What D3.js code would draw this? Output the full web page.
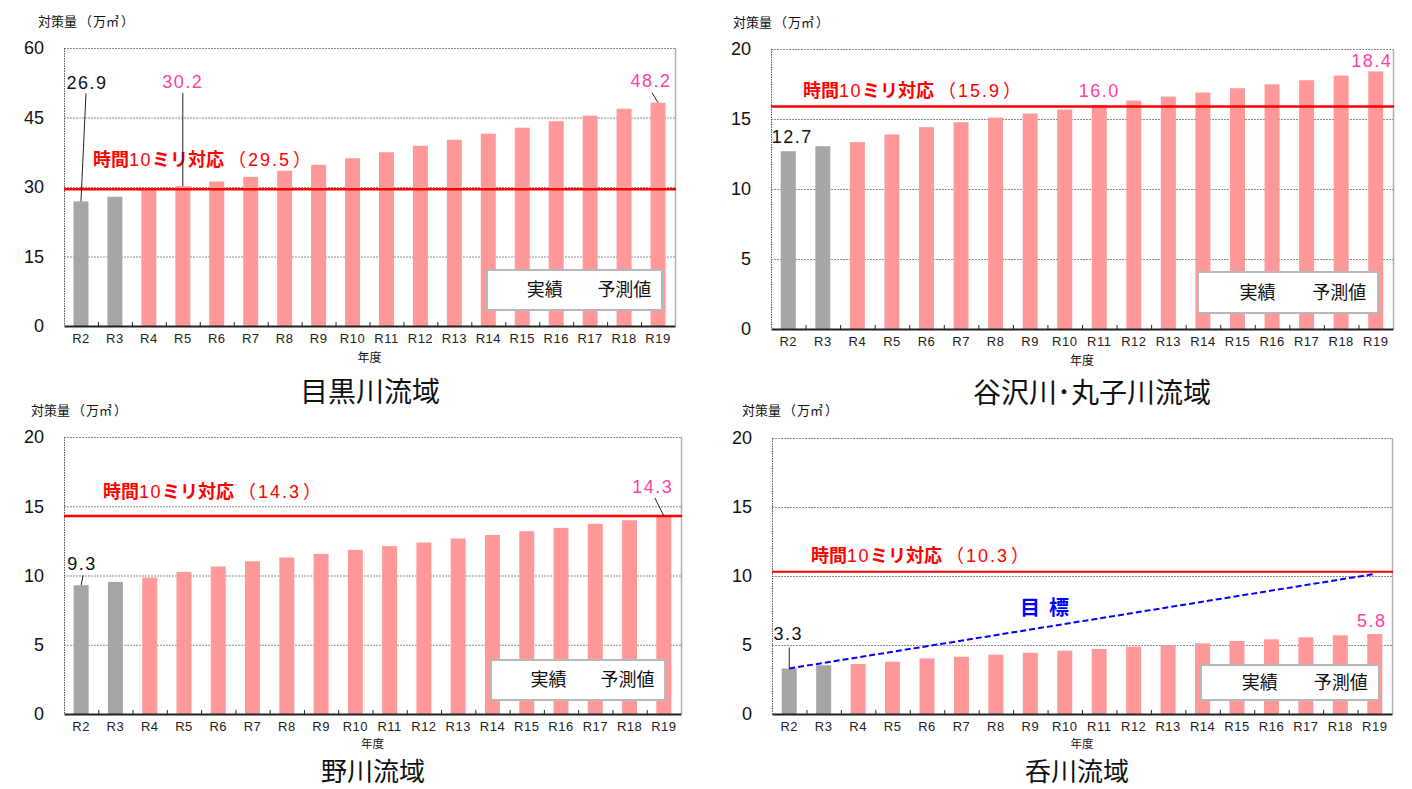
<!DOCTYPE html>
<html><head><meta charset="utf-8">
<script src="https://cdn.jsdelivr.net/npm/d3@7"></script>
<style>
body{margin:0;background:#fff;}
svg{display:block;}
text{font-family:"Liberation Sans","Noto Sans CJK JP",sans-serif;}
.jp{font-family:"Noto Sans CJK JP","Liberation Sans",sans-serif;}
</style></head>
<body>
<svg id="c" width="1412" height="789"></svg>
<script>
const categories = ["R2","R3","R4","R5","R6","R7","R8","R9","R10","R11","R12","R13","R14","R15","R16","R17","R18","R19"];
const actualCount = 2; // R2, R3 are 実績
const meguroValues = [26.9,27.9,29.4,30.2,31.2,32.2,33.5,34.8,36.2,37.5,38.9,40.2,41.5,42.8,44.2,45.4,46.9,48.2];
const yazawaValues = [12.7,13.06,13.35,13.9,14.42,14.77,15.1,15.39,15.68,16.0,16.32,16.6,16.89,17.2,17.48,17.77,18.1,18.4];
const nogawaValues = [9.3,9.54,9.86,10.26,10.65,11.03,11.3,11.56,11.85,12.12,12.38,12.67,12.93,13.2,13.44,13.73,13.99,14.3];
const nomikawaValues = [3.3,3.53,3.62,3.79,4.03,4.15,4.3,4.44,4.59,4.71,4.88,4.98,5.12,5.29,5.41,5.56,5.7,5.8];
const meguroTicks = [0,15,30,45,60];
const smallTicks = [0,5,10,15,20];
const thresholds = [29.5, 15.9, 14.3, 10.3];
const titles = ["目黒川流域","谷沢川･丸子川流域","野川流域","呑川流域"];
const targetLine = [3.3, 10.15]; // 呑川 目標 from R2 to R19

const svg = d3.select("#c");
const GRAY = "#a6a6a6", PINK = "#ff9999", PINKTXT = "#ff3f9f", RED = "#ff0000";

function panel(cfg){
  const g = svg.append("g");
  const x = d3.scaleBand().domain(categories).range([cfg.left, cfg.right]);
  const y = d3.scaleLinear().domain([0, cfg.yMax]).range([cfg.bottom, cfg.top]);
  // gridlines
  g.selectAll(".grid").data(cfg.ticks.filter(t=>t>0)).join("line")
    .attr("x1", cfg.left).attr("x2", cfg.right)
    .attr("y1", d=>y(d)+0.5).attr("y2", d=>y(d)+0.5)
    .attr("stroke", "#8c8c8c").attr("stroke-width",1).attr("stroke-dasharray","2,1");
  // right border
  g.append("line").attr("x1",cfg.right+0.5).attr("x2",cfg.right+0.5).attr("y1",cfg.top).attr("y2",cfg.bottom)
    .attr("stroke","#b0b0b0").attr("stroke-width",1.5);
  // left axis dotted
  g.append("line").attr("x1",cfg.left+0.5).attr("x2",cfg.left+0.5).attr("y1",cfg.top).attr("y2",cfg.bottom)
    .attr("stroke","#555").attr("stroke-width",1).attr("stroke-dasharray","1.5,1");
  // bars
  const bw = 15;
  g.selectAll(".bar").data(cfg.values).join("rect")
    .attr("x",(d,i)=>x(categories[i])+x.bandwidth()/2-bw/2)
    .attr("y",d=>y(d)).attr("width",bw).attr("height",d=>cfg.bottom-y(d))
    .attr("fill",(d,i)=>i<actualCount?GRAY:PINK);
  // bottom axis
  const ax = d3.axisBottom(x).tickSize(0).tickPadding(8);
  const axg = g.append("g").attr("transform",`translate(0,${cfg.bottom})`).call(ax);
  axg.select(".domain").attr("stroke","#222").attr("stroke-width",2);
  axg.selectAll("text").attr("font-size",13).attr("fill","#222").attr("letter-spacing",0.5);
  // inner ticks between categories
  g.selectAll(".tk").data(categories.slice(1)).join("line")
    .attr("x1",d=>x(d)+0.5).attr("x2",d=>x(d)+0.5).attr("y1",cfg.bottom-4).attr("y2",cfg.bottom)
    .attr("stroke","#222");
  // y axis labels
  const ay = d3.axisLeft(y).tickValues(cfg.ticks).tickSize(0).tickPadding(20);
  const ayg = g.append("g").attr("transform",`translate(${cfg.left},0)`).call(ay);
  ayg.select(".domain").remove();
  ayg.selectAll("text").attr("font-size",18).attr("fill","#111");
  // threshold line
  const th = cfg.threshold;
  g.append("line").attr("x1",cfg.left).attr("x2",cfg.right+1).attr("y1",y(th)).attr("y2",y(th))
    .attr("stroke",RED).attr("stroke-width",cfg.thW||2.5);
  const tl = g.append("text").attr("x",cfg.thLabel[0]).attr("y",cfg.thLabel[1]).attr("dy","0.35em")
    .attr("font-size",18).attr("fill",RED).attr("class","jp");
  tl.append("tspan").attr("font-weight","bold").text("時間");
  tl.append("tspan").attr("font-family","Liberation Sans").attr("letter-spacing",1.5).text("10");
  tl.append("tspan").attr("font-weight","bold").text("ミリ対応");
  tl.append("tspan").attr("dx",4).text("（");
  tl.append("tspan").attr("font-family","Liberation Sans").attr("letter-spacing",2).attr("dx",2).text(th.toFixed(1));
  tl.append("tspan").attr("dx",2).text("）");
  // target line
  if(cfg.target){
    g.append("line").attr("x1",x("R2")+x.bandwidth()/2).attr("y1",y(cfg.target[0]))
      .attr("x2",x("R19")+x.bandwidth()/2).attr("y2",y(cfg.target[1]))
      .attr("stroke","#0000ff").attr("stroke-width",2).attr("stroke-dasharray","6,3");
    g.append("text").attr("class","jp").attr("x",cfg.targetLabel[0]).attr("y",cfg.targetLabel[1])
      .attr("dy","0.35em").attr("font-size",20).attr("font-weight","bold").attr("fill","#0000ff")
      .attr("xml:space","preserve").text("目  標");
  }
  // data labels
  cfg.labels.forEach(l=>{
    const i = categories.indexOf(l.cat);
    const v = cfg.values[i];
    const cx = x(l.cat)+x.bandwidth()/2;
    const top = y(v);
    g.append("text").attr("x",cx+l.dx).attr("y",top+l.dy).attr("dy","0.35em")
      .attr("text-anchor","middle").attr("font-size",18).attr("letter-spacing",1.5)
      .attr("fill", i<actualCount?"#111":PINKTXT).text(v.toFixed(1));
    if(l.leader){
      g.append("line").attr("x1",cx+l.leader[0]).attr("y1",top+l.leader[1])
        .attr("x2",cx+l.leader[2]).attr("y2",top).attr("stroke","#222").attr("stroke-width",1);
    }
  });
  // legend
  const lg = cfg.legend;
  g.append("rect").attr("x",lg[0]).attr("y",lg[1]).attr("width",lg[2]).attr("height",lg[3])
    .attr("fill","#fff").attr("stroke","#b8b8b8").attr("stroke-width",2);
  g.append("text").attr("class","jp").attr("x",lg[0]+lg[2]*0.33).attr("y",lg[1]+lg[3]/2).attr("dy","0.35em")
    .attr("text-anchor","middle").attr("font-size",18).attr("fill","#111").text("実績");
  g.append("text").attr("class","jp").attr("x",lg[0]+lg[2]*0.785).attr("y",lg[1]+lg[3]/2).attr("dy","0.35em")
    .attr("text-anchor","middle").attr("font-size",18).attr("fill","#111").text("予測値");
  // axis titles
  const yt = g.append("text").attr("class","jp").attr("x",cfg.yTitle[0]).attr("y",cfg.yTitle[1]).attr("dy","0.35em")
    .attr("font-size",13).attr("fill","#111");
  yt.append("tspan").text("対策量");
  yt.append("tspan").attr("dx",2).text("（");
  yt.append("tspan").attr("dx",1).text("万㎥");
  yt.append("tspan").attr("dx",2).text("）");
  g.append("text").attr("class","jp").attr("x",(cfg.left+cfg.right)/2).attr("y",cfg.bottom+(cfg.xtOff||32)).attr("dy","0.35em")
    .attr("text-anchor","middle").attr("font-size",cfg.xtSize||12).attr("fill","#111").text("年度");
  g.append("text").attr("class","jp").attr("x",cfg.title[0]).attr("y",cfg.title[1]).attr("dy","0.35em")
    .attr("text-anchor","middle").attr("font-size",cfg.titleSize||28).attr("fill","#111").text(cfg.titleText);
}

panel({left:64,right:675,top:48,bottom:326,yMax:60,ticks:meguroTicks,values:meguroValues,
  threshold:thresholds[0],thLabel:[93,160],legend:[487,270,175,40],yTitle:[38,21],
  title:[370,392],titleText:titles[0],
  labels:[{cat:"R2",dx:6,dy:-119,leader:[5,-108,0]},{cat:"R5",dx:0,dy:-104,leader:[0,-93,0]},{cat:"R19",dx:-7,dy:-22,leader:[-6,-10,0]}]});
panel({left:771,right:1393,top:49,bottom:329,yMax:20,ticks:smallTicks,values:yazawaValues,
  threshold:thresholds[1],thLabel:[803,91],legend:[1198,272,180,41],yTitle:[733,22],
  title:[1092,393],titleText:titles[1],
  labels:[{cat:"R2",dx:4,dy:-15},{cat:"R11",dx:0,dy:-14},{cat:"R19",dx:-4,dy:-11}]});
panel({left:64,right:681,top:437,bottom:714,yMax:20,ticks:smallTicks,values:nogawaValues,
  threshold:thresholds[2],thLabel:[103,492],legend:[491,660,174,40],yTitle:[31,410],
  title:[373,772],titleSize:26,xtOff:30,xtSize:11.5,titleText:titles[2],
  labels:[{cat:"R2",dx:1,dy:-21,leader:[2,-10,0]},{cat:"R19",dx:-11,dy:-29,leader:[-9,-18,0]}]});
panel({left:772,right:1392,top:438,bottom:714,yMax:20,ticks:smallTicks,values:nomikawaValues,
  threshold:thresholds[3],thW:2,thLabel:[811,556],legend:[1201,665,178,35],yTitle:[742,410],
  title:[1077,772],titleSize:26,xtOff:30,xtSize:11.5,titleText:titles[3],target:targetLine,targetLabel:[1020,608],
  labels:[{cat:"R2",dx:-1,dy:-35,leader:[0,-21,0]},{cat:"R19",dx:-3,dy:-13}]});
</script>
</body></html>
